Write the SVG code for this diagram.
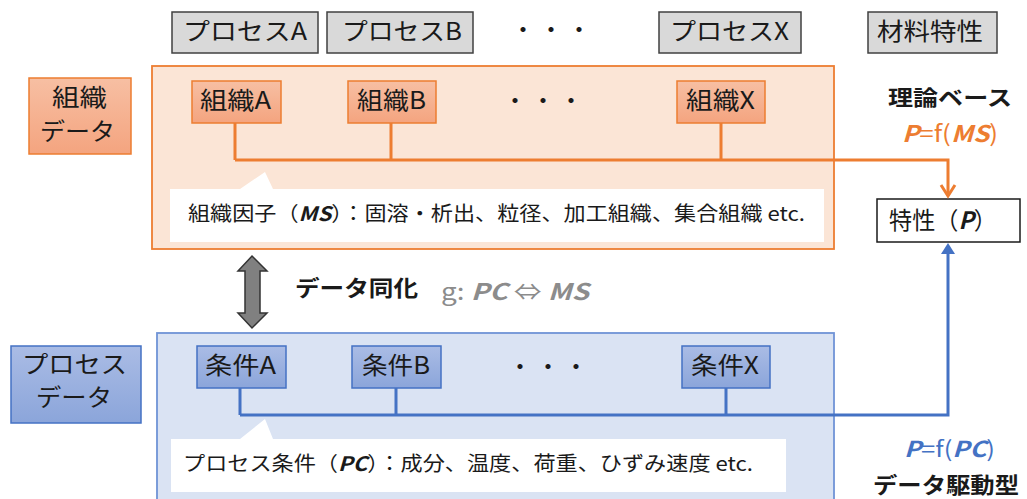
<svg xmlns="http://www.w3.org/2000/svg" width="1027" height="499" viewBox="0 0 1027 499">
<defs>
<linearGradient id="gOr" x1="0" y1="0" x2="0" y2="1"><stop offset="0" stop-color="#F7BFA3"/><stop offset="1" stop-color="#F4A47F"/></linearGradient>
<linearGradient id="gBl" x1="0" y1="0" x2="0" y2="1"><stop offset="0" stop-color="#AABCE5"/><stop offset="1" stop-color="#8BA5DA"/></linearGradient>
<style>
text{font-family:"Noto Sans CJK JP","Noto Sans",sans-serif;fill:#1a1a1a}
.t24{font-size:24px}
.t20{font-size:20px}
.b{font-weight:bold}
.bi{font-weight:bold;font-style:italic}
.proc{fill:#D9D9D9;stroke:#404040;stroke-width:1.5}
.onode{fill:url(#gOr);stroke:#ED7D31;stroke-width:1.5}
.bnode{fill:url(#gBl);stroke:#4472C4;stroke-width:1.5}
.oc{fill:none;stroke:#ED7D31;stroke-width:3}
.bc{fill:none;stroke:#4472C4;stroke-width:3}
</style>
</defs>
<rect width="1027" height="499" fill="#fff"/>

<!-- top process boxes -->
<g id="procA"><rect class="proc" x="172" y="12" width="146" height="41"/><text class="t24" x="183" y="40" textLength="124" lengthAdjust="spacingAndGlyphs">プロセスA</text></g>
<g id="procB"><rect class="proc" x="327" y="12" width="146" height="41"/><text class="t24" x="342" y="40" textLength="120" lengthAdjust="spacingAndGlyphs">プロセスB</text></g>
<g id="dotsTop"><text class="t24" x="511 539 567" y="38">・・・</text></g>
<g id="procX"><rect class="proc" x="659" y="12" width="142" height="41"/><text class="t24" x="670" y="40" textLength="119" lengthAdjust="spacingAndGlyphs">プロセスX</text></g>
<g id="material"><rect class="proc" x="868" y="12" width="129" height="41"/><text class="t24" x="877" y="40" textLength="106" lengthAdjust="spacingAndGlyphs">材料特性</text></g>

<!-- orange region -->
<g id="msRegion"><rect x="152" y="66" width="682" height="183" fill="#FBE5D6" stroke="#ED7D31" stroke-width="1.8"/></g>
<g id="msLabel"><rect class="onode" x="29" y="78" width="102" height="76"/>
<text class="t24" x="52" y="106" textLength="55" lengthAdjust="spacingAndGlyphs">組織</text>
<text class="t24" x="40" y="140" textLength="75" lengthAdjust="spacingAndGlyphs">データ</text></g>
<g id="msCallout"><path d="M170,189 H240 L265,172 L273,189 H824 V242 H170 Z" fill="#fff"/>
<text class="t20" x="188" y="221" textLength="617" lengthAdjust="spacingAndGlyphs">組織因子（<tspan class="bi">MS</tspan>）：固溶・析出、粒径、加工組織、集合組織 etc.</text></g>
<g id="msA"><rect class="onode" x="192" y="81" width="89" height="42"/><text class="t24" x="200" y="109" textLength="71" lengthAdjust="spacingAndGlyphs">組織A</text></g>
<g id="msB"><rect class="onode" x="348" y="81" width="88" height="42"/><text class="t24" x="357" y="109" textLength="69" lengthAdjust="spacingAndGlyphs">組織B</text></g>
<g id="dotsMS"><text class="t24" x="503 531 559" y="109">・・・</text></g>
<g id="msX"><rect class="onode" x="677" y="81" width="88" height="42"/><text class="t24" x="686" y="109" textLength="69" lengthAdjust="spacingAndGlyphs">組織X</text></g>

<!-- blue region -->
<g id="pcRegion"><rect x="157" y="333" width="677" height="175" fill="#DAE3F3" stroke="#6F93D6" stroke-width="1.8"/></g>
<g id="pcLabel"><rect class="bnode" x="11" y="346" width="130" height="77"/>
<text class="t24" x="22" y="373" textLength="105" lengthAdjust="spacingAndGlyphs">プロセス</text>
<text class="t24" x="36" y="406" textLength="76" lengthAdjust="spacingAndGlyphs">データ</text></g>
<g id="pcCallout"><path d="M171,439 H240 L265,419 L273,439 H786 V492 H171 Z" fill="#fff"/>
<text class="t20" x="183" y="471" textLength="570" lengthAdjust="spacingAndGlyphs">プロセス条件（<tspan class="bi">PC</tspan>）：成分、温度、荷重、ひずみ速度 etc.</text></g>
<g id="pcA"><rect class="bnode" x="197" y="346" width="89" height="42"/><text class="t24" x="205" y="374" textLength="71" lengthAdjust="spacingAndGlyphs">条件A</text></g>
<g id="pcB"><rect class="bnode" x="352" y="346" width="89" height="42"/><text class="t24" x="362" y="374" textLength="68" lengthAdjust="spacingAndGlyphs">条件B</text></g>
<g id="dotsPC"><text class="t24" x="508 536 564" y="375">・・・</text></g>
<g id="pcX"><rect class="bnode" x="682" y="346" width="88" height="42"/><text class="t24" x="691" y="374" textLength="68" lengthAdjust="spacingAndGlyphs">条件X</text></g>

<!-- property -->
<g id="property"><rect x="877" y="199" width="143" height="43" fill="#fff" stroke="#1a1a1a" stroke-width="1.5"/>
<text class="t24" x="889" y="229" textLength="108" lengthAdjust="spacingAndGlyphs">特性（<tspan class="bi">P</tspan>）</text></g>

<!-- labels -->
<g id="theory"><text class="b" x="888" y="105" textLength="124" lengthAdjust="spacingAndGlyphs" style="font-size:21px">理論ベース</text>
<text x="902" y="142" textLength="96" lengthAdjust="spacingAndGlyphs" style="font-size:23px;fill:#ED7D31"><tspan class="bi" style="fill:#ED7D31">P</tspan>=f(<tspan class="bi" style="fill:#ED7D31">MS</tspan>)</text></g>
<g id="datadriven"><text x="904" y="457" textLength="91" lengthAdjust="spacingAndGlyphs" style="font-size:22px;fill:#4472C4"><tspan class="bi" style="fill:#4472C4">P</tspan>=f(<tspan class="bi" style="fill:#4472C4">PC</tspan>)</text>
<text class="b" x="873" y="493" textLength="146" lengthAdjust="spacingAndGlyphs" style="font-size:22px">データ駆動型</text></g>
<g id="assim"><polygon points="252,256 267,271 260,271 260,313 267,313 252,328 238,313 245,313 245,271 238,271" fill="#808080" stroke="#333" stroke-width="1.5" stroke-linejoin="miter"/>
<text class="b" x="295" y="296" textLength="123" lengthAdjust="spacingAndGlyphs" style="font-size:22px">データ同化</text>
<text x="441" y="300" textLength="148" lengthAdjust="spacingAndGlyphs" style="font-size:23px;fill:#8C8C8C">g: <tspan class="bi" style="fill:#8C8C8C">PC</tspan> ⇔ <tspan class="bi" style="fill:#8C8C8C">MS</tspan></text></g>

<!-- connectors -->
<g id="connectors">
<path class="oc" d="M235,123 V160 M391,123 V160 M721,123 V160 M235,160 H948 V196"/>
<path class="oc" d="M941,185 L948,196 L955,185"/>
<path class="bc" d="M240,388 V415 M396,388 V415 M726,388 V415 M240,415 H948 V252"/>
<polygon points="948,243 955,254 941,254" fill="#4472C4"/>
</g>
</svg>
